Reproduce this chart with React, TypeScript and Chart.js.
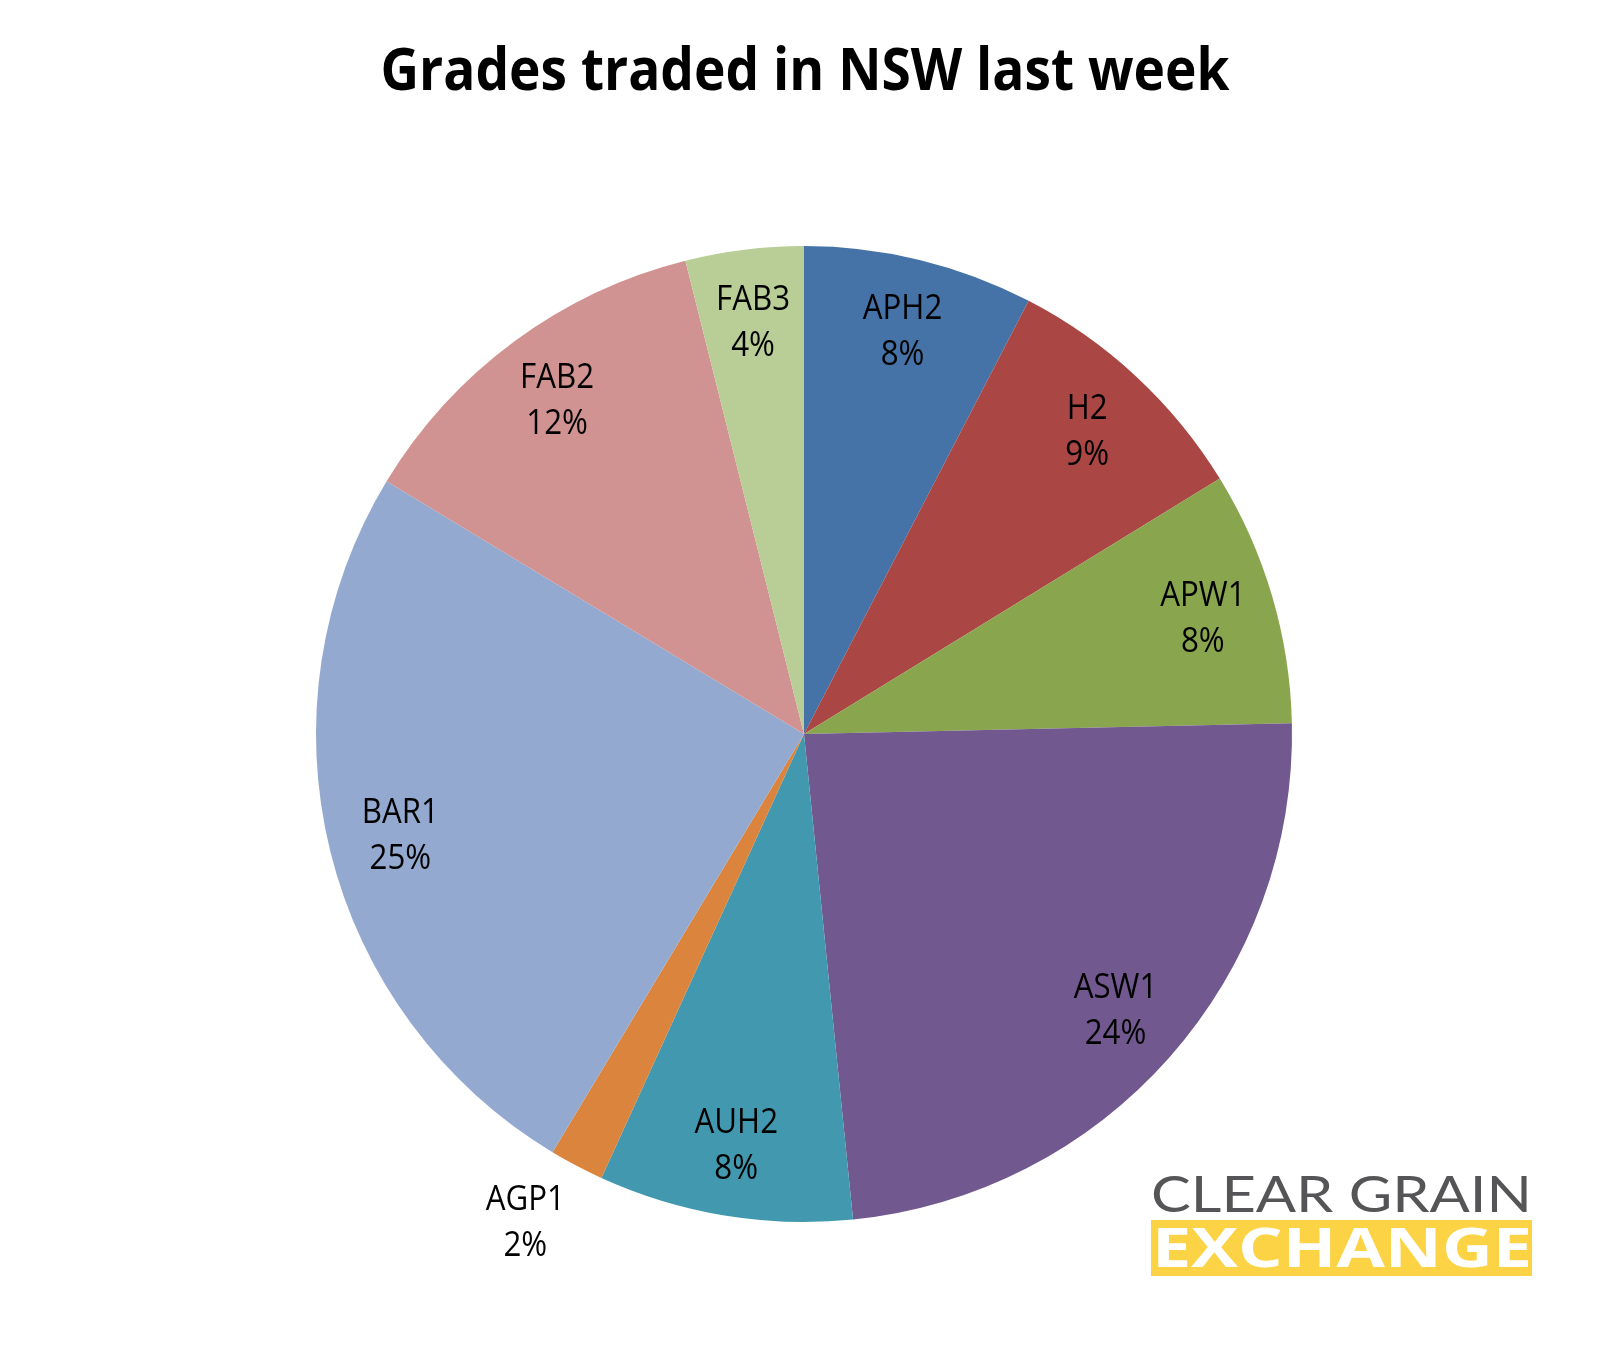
import React, { useEffect, useRef } from "react";
import { Chart, registerables } from "chart.js";

Chart.register(...registerables);

const TITLE = "Grades traded in NSW last week";
const grades = ["APH2", "H2", "APW1", "ASW1", "AUH2", "AGP1", "BAR1", "FAB2", "FAB3"];
const shares = [7.6, 8.6, 8.4, 23.7, 8.4, 1.8, 25.0, 12.4, 3.9];
const sliceColors = ["#4572A7", "#AA4643", "#89A54E", "#71588F", "#4198AF", "#DB843D", "#93A9CF", "#D19392", "#B9CD96"];
const LOGO_LINE1 = "CLEAR GRAIN";
const LOGO_LINE2 = "EXCHANGE";

function drawFit(ctx: CanvasRenderingContext2D, text: string, x: number, y: number, targetW: number, align: "left" | "center") {
  const w = ctx.measureText(text).width;
  const s = targetW / w;
  ctx.save();
  ctx.translate(x, y);
  ctx.scale(s, 1);
  ctx.textAlign = align;
  ctx.fillText(text, 0, 0);
  ctx.restore();
}

function drawScaled(ctx: CanvasRenderingContext2D, text: string, x: number, y: number, sx: number) {
  ctx.save();
  ctx.translate(x, y);
  ctx.scale(sx, 1);
  ctx.textAlign = "center";
  ctx.fillText(text, 0, 0);
  ctx.restore();
}

const sliceLabels = {
  id: "sliceLabels",
  afterDatasetsDraw(chart: any) {
    const ctx: CanvasRenderingContext2D = chart.ctx;
    const meta = chart.getDatasetMeta(0);
    const data = chart.data.datasets[0].data as number[];
    const labels = chart.data.labels as string[];
    const total = data.reduce((a, b) => a + b, 0);
    ctx.save();
    ctx.font = "34px 'Open Sans'";
    ctx.fillStyle = "#000000";
    ctx.textBaseline = "alphabetic";
    meta.data.forEach((arc: any, i: number) => {
      const p = arc.getProps(["x", "y", "startAngle", "endAngle", "outerRadius"], true);
      const pct = (data[i] / total) * 100;
      const outside = pct < 3;
      const mid = (p.startAngle + p.endAngle) / 2 + (outside ? (2 * Math.PI) / 180 : 0);
      const rf = outside ? 1.15 : 0.852;
      const lx = p.x + Math.cos(mid) * p.outerRadius * rf;
      const ly = p.y + Math.sin(mid) * p.outerRadius * rf;
      drawScaled(ctx, labels[i], lx, ly - 11, 0.92);
      drawScaled(ctx, Math.round(pct) + "%", lx, ly + 35, 0.92);
    });
    ctx.restore();
  },
};

const decorations = {
  id: "decorations",
  afterDraw(chart: any) {
    const ctx: CanvasRenderingContext2D = chart.ctx;
    ctx.save();
    // title
    ctx.fillStyle = "#000000";
    ctx.font = "bold 59px 'Open Sans'";
    ctx.textBaseline = "alphabetic";
    drawFit(ctx, TITLE, 805, 90, 849, "center");
    // logo
    ctx.fillStyle = "#555557";
    ctx.font = "400 51px Lato";
    drawFit(ctx, LOGO_LINE1, 1151, 1212, 381, "left");
    ctx.fillStyle = "#FCD344";
    ctx.fillRect(1151, 1220, 381, 56);
    ctx.fillStyle = "#FFFFFF";
    ctx.font = "bold 53px 'Open Sans'";
    drawFit(ctx, LOGO_LINE2, 1152, 1267, 380, "left");
    ctx.restore();
  },
};

export default function App() {
  const ref = useRef<HTMLCanvasElement | null>(null);
  useEffect(() => {
    if (!ref.current) return;
    const chart = new Chart(ref.current, {
      type: "pie",
      data: {
        labels: grades,
        datasets: [
          {
            data: shares,
            backgroundColor: sliceColors,
            borderWidth: 0,
          },
        ],
      },
      options: {
        animation: false,
        responsive: false,
        maintainAspectRatio: false,
        layout: { padding: { left: 316, right: 316, top: 246, bottom: 128 } },
        plugins: {
          legend: { display: false },
          tooltip: { enabled: false },
          title: { display: false },
        },
      },
      plugins: [sliceLabels, decorations],
    });
    return () => chart.destroy();
  }, []);
  return (
    <div style={{ position: "absolute", left: 0, top: 0, width: 1608, height: 1350, background: "#ffffff" }}>
      <canvas ref={ref} width={1608} height={1350} style={{ width: 1608, height: 1350, display: "block" }} />
    </div>
  );
}
